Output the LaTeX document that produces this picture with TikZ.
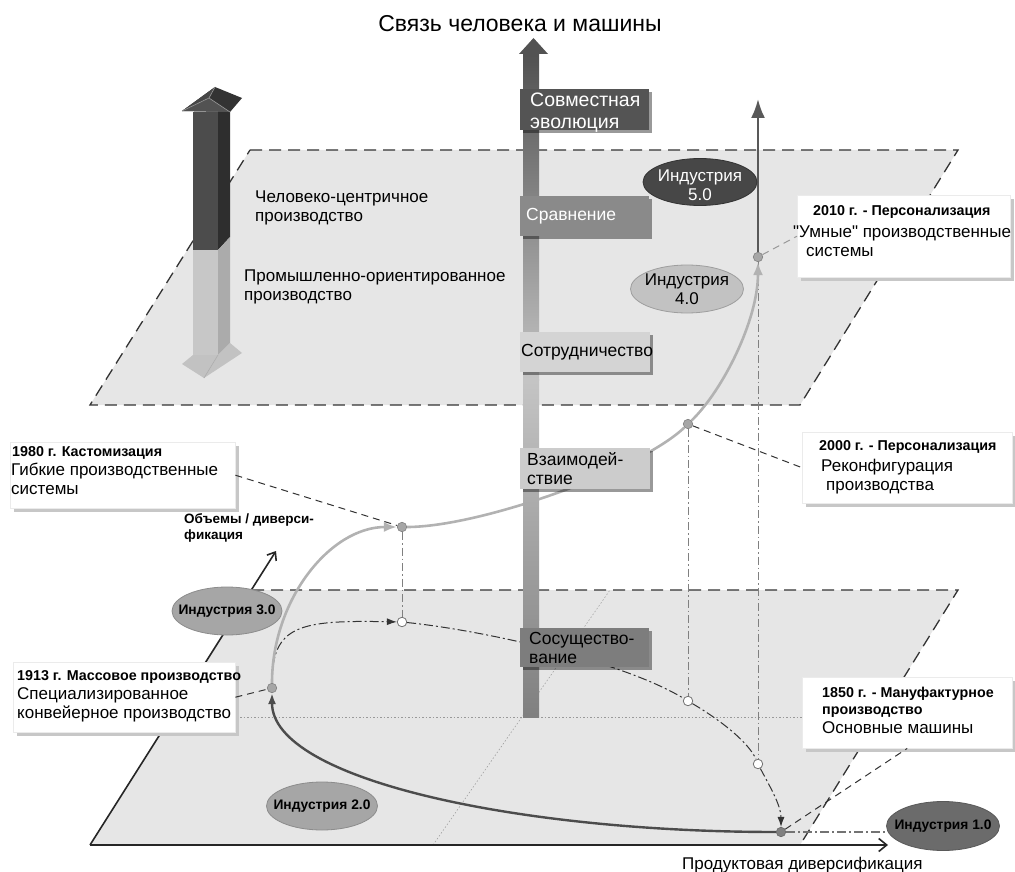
\documentclass[tikz,border=0pt]{standalone}
\usepackage{fontspec}
\setmainfont{Liberation Sans}[Ligatures=TeXOff]
\usetikzlibrary{arrows.meta,shapes.geometric,shadows}
\definecolor{planeC}{HTML}{E6E6E6}
\definecolor{edgeC}{HTML}{333333}
\begin{document}
\begin{tikzpicture}[x=1pt,y=-1pt,
  sEdge/.style={draw=edgeC,line width=1.3pt,dash pattern=on 12pt off 7pt},
  sAxis/.style={draw=black!85,line width=1.6pt},
  sGuide/.style={draw=black!40,line width=0.5pt,dash pattern=on 1.5pt off 2pt},
  sVGuide/.style={draw=black!50,line width=0.8pt,dash pattern=on 8pt off 3pt on 1.5pt off 3pt},
  sLeader/.style={draw=black!80,line width=1pt,dash pattern=on 7pt off 5pt},
  sDashDot/.style={draw=black!80,line width=1pt,dash pattern=on 9pt off 3pt on 2pt off 3pt},
  sGray/.style={draw=black!30,line width=2.6pt},
  sBarBox/.style={rectangle,inner sep=0pt,anchor=north west,minimum width=129pt,
     drop shadow={shadow xshift=3pt,shadow yshift=-3pt,fill=black,opacity=0.4}},
  sBarText/.style={inner sep=0pt,anchor=west,align=left,font=\fontsize{17.5}{19}\selectfont},
  sCBox/.style={rectangle,inner sep=0pt,anchor=north west,fill=white,draw=black!8,
     drop shadow={shadow xshift=4pt,shadow yshift=-4pt,fill=black!22,opacity=1}},
  sCTitle/.style={inner sep=0pt,anchor=base west,font=\bfseries\fontsize{14.3}{16}\selectfont},
  sCLine/.style={inner sep=0pt,anchor=base west,font=\fontsize{17}{19}\selectfont},
  sInd/.style={ellipse,inner sep=0pt,minimum width=113pt,minimum height=48pt,draw=black!55,line width=0.8pt},
  sIndText/.style={inner sep=0pt,align=center,font=\fontsize{17}{19}\selectfont},
  sIndBold/.style={inner sep=0pt,font=\bfseries\fontsize{13.8}{15}\selectfont},
  sDotG/.style={circle,inner sep=0pt,minimum size=9.5pt,fill=black!35,draw=black!50,line width=0.6pt},
  sDotO/.style={circle,inner sep=0pt,minimum size=9.5pt,fill=white,draw=black!55,line width=0.8pt},
  sPlain/.style={inner sep=0pt,anchor=base west,font=\fontsize{17}{19}\selectfont}
]
\useasboundingbox (0,0) rectangle (1015,872);

% planes
\fill[planeC] (250,590) -- (958,590) -- (800,845) -- (90,845) -- cycle;
\fill[planeC] (250,150) -- (958,150) -- (800,405) -- (90,405) -- cycle;
% dotted guides
\draw[sGuide] (170,717) -- (879,717);
\draw[sGuide] (433,845) -- (610,590);
% plane edges
\draw[sEdge] (250,150) -- (958,150) -- (800,405) -- (90,405) -- cycle;
\draw[sEdge] (252,590) -- (958,590) -- (800,845);
% axes
\coordinate (O) at (90,845);
\coordinate (ytip) at (276,551);
\coordinate (xtip) at (888,845);
\draw[sAxis,-{Straight Barb[length=7pt,width=11pt]}] (O) -- (ytip);
\draw[sAxis,-{Straight Barb[length=8pt,width=13pt]}] (O) -- (xtip);

% points
\node[sDotG,fill=black!50,draw=black!60] (p1850) at (781,832) {};
\node[sDotG] (p1913) at (272,688) {};
\node[sDotG] (p1980) at (402,527) {};
\node[sDotG] (p2000) at (688,424) {};
\node[sDotG] (p2010) at (758,257) {};
\node[sDotO] (o1) at (402,622) {};
\node[sDotO] (o2) at (688,701) {};
\node[sDotO] (o3) at (758,764) {};

% vertical guides
\draw[sVGuide] (p1980) -- (o1);
\draw[sVGuide] (p2000) -- (o2);
\draw[sVGuide] (p2010) -- (o3);

% dash-dot projection curve
\draw[sDashDot,-{Latex[length=10pt,width=7pt]}] (p1913) .. controls (272,625) and (300,620) .. (o1);
\draw[sDashDot] (o1) .. controls (480,630) and (620,660) .. (o2);
\draw[sDashDot] (o2) .. controls (722,721) and (749,743) .. (o3);
\draw[sDashDot,-{Latex[length=10pt,width=7pt]}] (o3) .. controls (769,785) and (781,805) .. (p1850);
\draw[line width=1.4pt,black!55,dash pattern=on 9pt off 3pt on 2pt off 3pt] (p1850) -- (p1850 -| 888,0);

% main evolution curve
\draw[line width=2.4pt,black!70,-{Latex[length=11pt,width=8pt]}] (p1850) .. controls (520,832) and (272,780) .. (p1913);
\draw[sGray,-{Latex[length=13pt,width=10pt]}] (p1913) .. controls (272,600) and (330,527) .. (p1980);
\draw[sGray] (p1980) .. controls (480,527) and (640,470) .. (p2000);
\draw[sGray,-{Latex[length=13pt,width=10pt]}] (p2000) .. controls (723,390) and (758,320) .. (p2010);
\coordinate (top5) at (758,99);
\draw[line width=2.4pt,black!65,-{Latex[length=19pt,width=14pt]}] (p2010) -- (top5);

% central bar
\shade[top color=black!68,bottom color=black!23] (523,54) rectangle (539,380);
\shade[top color=black!23,bottom color=black!50] (523,379.5) rectangle (539,717);
\fill[black!68] (519,54) -- (548,54) -- (533.5,38) -- cycle;

% bar boxes
\node[sBarBox,fill=black!67,minimum height=41pt] (bEvol) at (520,89) {};
\node[sBarText,text=white,font=\fontsize{19.5}{22}\selectfont,yshift=-3pt] (tEvol) at ([xshift=10pt]bEvol.west) {Совместная\\эволюция};
\node[sBarBox,fill=black!46,minimum height=40pt] (bComp) at (520,196) {};
\node[sBarText,text=white] (tComp) at ([xshift=6pt]bComp.west) {Сравнение};
\node[sBarBox,fill=black!17,minimum height=40pt,minimum width=130pt] (bCoop) at (520,332) {};
\node[sBarText] (tCoop) at ([xshift=1pt]bCoop.west) {Сотрудничество};
\node[sBarBox,fill=black!20,minimum height=41pt,minimum width=130pt] (bInter) at (520,448) {};
\node[sBarText] (tInter) at ([xshift=7pt]bInter.west) {Взаимодей-\\ствие};
\node[sBarBox,fill=black!51,minimum height=39pt] (bCoex) at (520,628) {};
\node[sBarText] (tCoex) at ([xshift=9pt]bCoex.west) {Сосущество-\\вание};

% left 3D arrow
\fill[black!82] (218,112) -- (230,100) -- (230,237) -- (218,250) -- cycle;
\fill[black!33] (218,250) -- (230,237) -- (230,343) -- (218,355) -- cycle;
\fill[black!70] (193,112) rectangle (218,250);
\fill[black!22] (193,250) rectangle (218,355);
\fill[black!24] (193,355) -- (182,364) -- (204,378) -- (242,353) -- (230,343) -- (218,355) -- cycle;
\draw[black!32,line width=0.6pt] (218,355) -- (204,378);
\fill[black!80] (182,111) -- (215,87) -- (242,98) -- (230,112) -- cycle;
\fill[black!68] (182,111) -- (209,98) -- (230,112) -- cycle;
\fill[black!72] (182,111) -- (215,87) -- (209,98) -- cycle;
\draw[black!40,line width=0.6pt] (182,111) -- (209,98) -- (230,112);
\draw[black!40,line width=0.6pt] (209,98) -- (215,87);

% texts
\node[inner sep=0pt,font=\fontsize{23}{25}\selectfont] (title) at (520,24) {Связь человека и машины};
\node[sPlain] (hc1) at (255,203) {Человеко-центричное};
\node[sPlain] (hc2) at (255,222) {производство};
\node[sPlain] (io1) at (244,281) {Промышленно-ориентированное};
\node[sPlain] (io2) at (244,300) {производство};
\node[sPlain] (xlab) at (682,869) {Продуктовая диверсификация};

% ellipses
\node[sInd,fill=black!72,draw=black!80,minimum width=114pt,minimum height=47pt] (ind5) at (700,182) {};
\node[sIndText,text=white] (ind5t) at ([yshift=-3pt]ind5.center) {Индустрия\\5.0};
\node[sInd,fill=black!24,draw=black!38] (ind4) at (687,289) {};
\node[sIndText] (ind4t) at (ind4.center) {Индустрия\\4.0};
\node[sInd,fill=black!35,draw=black!45,minimum width=110pt] (ind3) at (227,611) {};
\node[sIndBold] (ind3t) at (ind3.center) {Индустрия 3.0};
\node[sInd,fill=black!35,draw=black!45,minimum width=111pt] (ind2) at (322,806) {};
\node[sIndBold] (ind2t) at (ind2.center) {Индустрия 2.0};
\node[sInd,fill=black!58,draw=black!65,minimum height=49pt] (ind1) at (943,826) {};
\node[sIndBold] (ind1t) at (ind1.center) {Индустрия 1.0};

% callouts
\node[sCBox,minimum width=213pt,minimum height=82pt] (c2010) at (797,195) {};
\node[sCTitle] (c2010a) at (813,215) {2010 г. - Персонализация};
\node[sCLine] (c2010b) at (793,237) {"Умные" производственные};
\node[sCLine] (c2010c) at (806,256) {системы};

\node[sCBox,minimum width=210pt,minimum height=71pt] (c2000) at (802,432) {};
\node[sCTitle] (c2000a) at (819,450) {2000 г. - Персонализация};
\node[sCLine] (c2000b) at (821,471) {Реконфигурация};
\node[sCLine] (c2000c) at (826,490) {производства};

\node[sCBox,minimum width=225pt,minimum height=66pt] (c1980) at (10,442) {};
\node[sCTitle] (c1980a) at (12,456) {1980 г. Кастомизация};
\node[sCLine] (c1980b) at (11,475) {Гибкие производственные};
\node[sCLine] (c1980c) at (11,494) {системы};

\node[sCBox,minimum width=222pt,minimum height=70pt] (c1913) at (13,662) {};
\node[sCTitle] (c1913a) at (17,680) {1913 г. Массовое производство};
\node[sCLine] (c1913b) at (17,699) {Специализированное};
\node[sCLine] (c1913c) at (17,718) {конвейерное производство};

\node[sCBox,minimum width=210pt,minimum height=71pt] (c1850) at (802,677) {};
\node[sCTitle] (c1850a) at (822,697) {1850 г. - Мануфактурное};
\node[sCTitle] (c1850b) at (822,714) {производство};
\node[sCLine] (c1850c) at (822,733) {Основные машины};

% axis label (above callout shadow)
\node[sCTitle,font=\bfseries\fontsize{13.5}{15}\selectfont] (volA) at (184,523) {Объемы / диверси-};
\node[sCTitle,font=\bfseries\fontsize{13.5}{15}\selectfont] (volB) at (184,539) {фикация};

% leaders
\draw[sLeader] (c1980.east) -- (p1980);
\draw[sLeader] (c1913.east) -- (p1913);
\draw[sLeader] (p2000) -- (c2000.west);
\draw[sLeader,draw=black!40] (p2010) -- (c2010.west);
\draw[sLeader] (p1850) -- (c1850.south);
\end{tikzpicture}
\end{document}
